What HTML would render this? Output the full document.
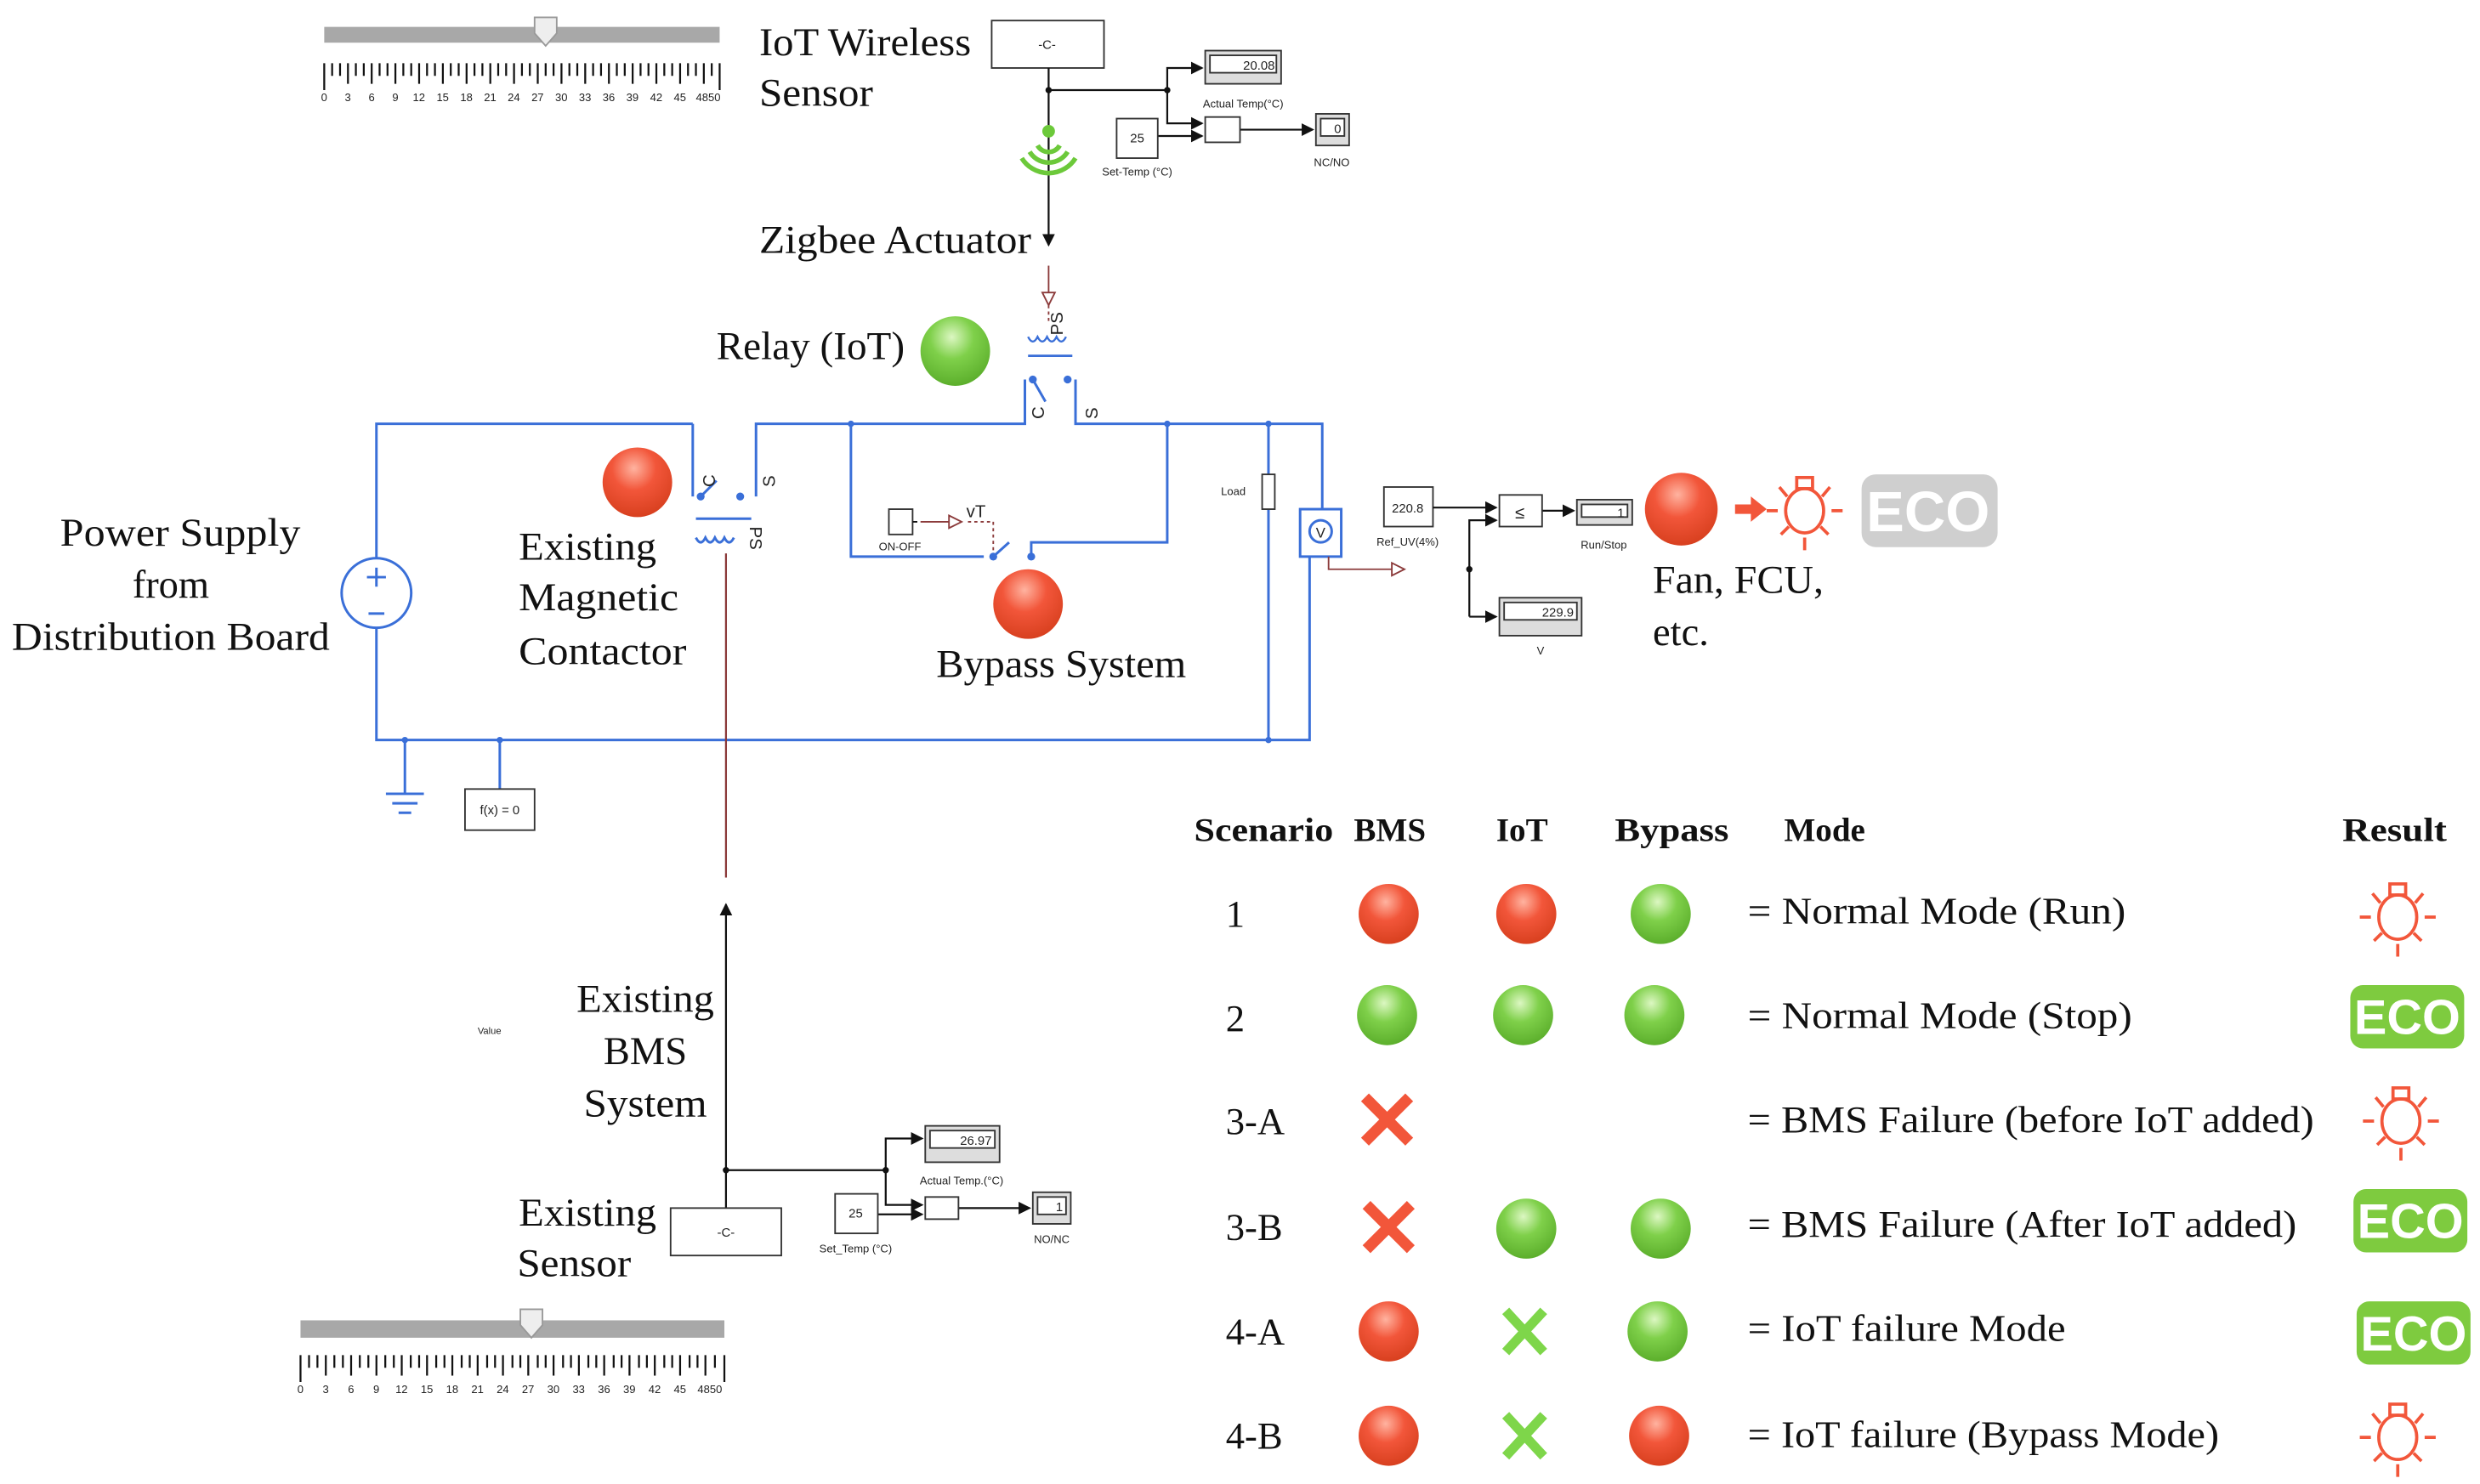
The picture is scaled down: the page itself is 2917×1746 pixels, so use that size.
<!DOCTYPE html>
<html><head><meta charset="utf-8"><style>
html,body{margin:0;padding:0;background:#fff;}
svg{display:block;}
.s{font-family:"Liberation Serif",serif;fill:#111;}
.a{font-family:"Liberation Sans",sans-serif;fill:#222;}
</style></head><body>
<svg width="2917" height="1746" viewBox="0 0 1568 938.5" preserveAspectRatio="none" xmlns="http://www.w3.org/2000/svg">
<defs>
<radialGradient id="gr" cx="45%" cy="30%" r="70%"><stop offset="0" stop-color="#ffb3a0"/><stop offset="0.45" stop-color="#f2563a"/><stop offset="1" stop-color="#d8401f"/></radialGradient>
<radialGradient id="gg" cx="45%" cy="30%" r="70%"><stop offset="0" stop-color="#dcf7c2"/><stop offset="0.45" stop-color="#7fd04a"/><stop offset="1" stop-color="#5caf2c"/></radialGradient>
<marker id="ar" markerWidth="8" markerHeight="8" refX="7" refY="4" orient="auto" markerUnits="userSpaceOnUse"><path d="M0,0 L8,4 L0,8z" fill="#111"/></marker>
<marker id="ho" markerWidth="10" markerHeight="10" refX="9" refY="5" orient="auto" markerUnits="userSpaceOnUse"><path d="M1,1 L9,5 L1,9z" fill="#fff" stroke="#8b3a3a"/></marker>
<g id="bulb" fill="none" stroke="#f2563a" stroke-width="2"><ellipse cx="0" cy="3" rx="12" ry="14"/><rect x="-5" y="-18" width="10" height="7"/><path d="M-24,3h7M17,3h7M0,20v8M-16,-12l5,6M16,-12l-5,6M-15,18l5,-5M15,18l-5,-5"/></g>
<g id="eco"><rect x="0" y="0" width="72" height="40" rx="8" fill="#7ecb3f"/><text x="36" y="31" text-anchor="middle" font-family="Liberation Sans,sans-serif" font-weight="bold" font-size="31" fill="#fff">ECO</text></g>
<g id="xr"><path d="M-14,-14L14,14M14,-14L-14,14" stroke="#f2563a" stroke-width="7"/></g>
<g id="xg"><path d="M-12,-13L12,13M12,-13L-12,13" stroke="#7ed64a" stroke-width="6"/></g>
</defs>

<!-- top slider -->
<rect x="205" y="17" width="250" height="10" fill="#a8a8a8"/>
<path d="M338,11h14v10l-7,8l-7,-8z" fill="#eee" stroke="#999"/>
<g stroke="#111" stroke-width="1.2">
<path d="M205,40v17M210,40v8M215,40v8M220,40v13M225,40v8M230,40v8M235,40v13M240,40v8M245,40v8M250,40v13M255,40v8M260,40v8M265,40v13M270,40v8M275,40v8M280,40v13M285,40v8M290,40v8M295,40v13M300,40v8M305,40v8M310,40v13M315,40v8M320,40v8M325,40v13M330,40v8M335,40v8M340,40v13M345,40v8M350,40v8M355,40v13M360,40v8M365,40v8M370,40v13M375,40v8M380,40v8M385,40v13M390,40v8M395,40v8M400,40v13M405,40v8M410,40v8M415,40v13M420,40v8M425,40v8M430,40v13M435,40v8M440,40v8M445,40v13M450,40v8M455,40v17"/>
</g>
<text class="a" font-size="7" y="64"><tspan x="203">0</tspan><tspan x="218">3</tspan><tspan x="233">6</tspan><tspan x="248">9</tspan><tspan x="261">12</tspan><tspan x="276">15</tspan><tspan x="291">18</tspan><tspan x="306">21</tspan><tspan x="321">24</tspan><tspan x="336">27</tspan><tspan x="351">30</tspan><tspan x="366">33</tspan><tspan x="381">36</tspan><tspan x="396">39</tspan><tspan x="411">42</tspan><tspan x="426">45</tspan><tspan x="440">4850</tspan></text>

<text class="s" font-size="25" x="480" y="35" textLength="134" lengthAdjust="spacingAndGlyphs">IoT Wireless</text>
<text class="s" font-size="25" x="480" y="67" textLength="72" lengthAdjust="spacingAndGlyphs">Sensor</text>
<rect x="627" y="13" width="71" height="30" fill="#fff" stroke="#333"/>
<text class="a" font-size="8" x="662" y="31" text-anchor="middle">-C-</text>
<g stroke="#111" stroke-width="1.2" fill="none">
<path d="M663,43V155" marker-end="url(#ar)"/>
<path d="M663,57H738V43H760" marker-end="url(#ar)"/>
<path d="M738,57V78H760" marker-end="url(#ar)"/>
<path d="M732,86H760" marker-end="url(#ar)"/>
<path d="M784,82H830" marker-end="url(#ar)"/>
</g>
<circle cx="663" cy="57" r="2" fill="#111"/><circle cx="738" cy="57" r="2" fill="#111"/>
<rect x="762" y="32" width="48" height="21" fill="#ddd" stroke="#333"/><rect x="765" y="35" width="42" height="11" fill="#fff" stroke="#333"/>
<text class="a" font-size="8" x="806" y="44" text-anchor="end">20.08</text>
<text class="a" font-size="7" x="786" y="68" text-anchor="middle">Actual Temp(°C)</text>
<rect x="706" y="75" width="26" height="25" fill="#fff" stroke="#333"/><text class="a" font-size="8" x="719" y="90" text-anchor="middle">25</text>
<text class="a" font-size="7" x="719" y="111" text-anchor="middle">Set-Temp (°C)</text>
<rect x="762" y="74" width="22" height="16" fill="#fff" stroke="#333"/>
<rect x="832" y="72" width="21" height="20" fill="#ddd" stroke="#333"/><rect x="835" y="75" width="15" height="11" fill="#fff" stroke="#333"/>
<text class="a" font-size="8" x="848" y="84" text-anchor="end">0</text>
<text class="a" font-size="7" x="842" y="105" text-anchor="middle">NC/NO</text>
<!-- wifi -->
<g fill="none" stroke="#6cc93a" stroke-width="3"><path d="M656,92a8,8 0 0 0 14,0"/><path d="M651,96a14,14 0 0 0 24,0"/><path d="M646,100a20,20 0 0 0 34,0"/></g>
<circle cx="663" cy="83" r="4" fill="#6cc93a"/>
<text class="s" font-size="25" x="480" y="160" textLength="172" lengthAdjust="spacingAndGlyphs">Zigbee Actuator</text>
<!-- relay coil -->
<path d="M663,168V193" stroke="#8b3a3a" fill="none" marker-end="url(#ho)"/>
<path d="M663,193v10" stroke="#8b3a3a" stroke-dasharray="2,2"/>
<path d="M650,213q3,6 6,0q3,6 6,0q3,6 6,0q3,6 6,0" fill="none" stroke="#3a6fd8" stroke-width="1.3"/>
<path d="M650,225H678" stroke="#3a6fd8" stroke-width="1.5"/>
<text class="a" font-size="11" fill="#3a6fd8" transform="translate(672,212) rotate(-90)">PS</text>
<circle cx="604" cy="222" r="22" fill="url(#gg)"/>
<text class="s" font-size="25" x="453" y="227" textLength="119" lengthAdjust="spacingAndGlyphs">Relay (IoT)</text>
<!-- circuit -->
<g stroke="#3a6fd8" stroke-width="1.6" fill="none">
<path d="M438,268H238V353M238,397V468H828V352"/>
<path d="M438,268V314"/>
<path d="M478,314V268H648V240"/>
<path d="M653,240l8,14"/>
<path d="M680,240V268H836V322"/>
<path d="M802,268V468"/>
<path d="M538,268V352H622"/>
<path d="M738,268V343H652V352"/>
<path d="M628,352l10,-9"/>
<path d="M443,314l10,-10"/>
<rect x="822" y="322" width="26" height="30"/>
<circle cx="835" cy="336" r="7"/>
<circle cx="238" cy="375" r="22"/>
<path d="M232,365h12M238,359v12M233,388h10"/>
<path d="M440,328H475"/>
<path d="M440,340q3,6 6,0q3,6 6,0q3,6 6,0q3,6 6,0"/>
<path d="M256,468V502M244,502h24M248,508h16M252,514h8M316,468V499"/>
</g>
<rect x="798" y="300" width="8" height="22" fill="#fff" stroke="#333"/>
<text class="a" font-size="7" x="772" y="313">Load</text>
<text class="a" font-size="9" x="835" y="340" text-anchor="middle" fill="#3a6fd8">V</text>
<g fill="#3a6fd8"><circle cx="653" cy="240" r="2.5"/><circle cx="675" cy="240" r="2.5"/><circle cx="443" cy="314" r="2.5"/><circle cx="468" cy="314" r="2.5"/><circle cx="628" cy="352" r="2.5"/><circle cx="652" cy="352" r="2.5"/><circle cx="538" cy="268" r="2"/><circle cx="738" cy="268" r="2"/><circle cx="802" cy="268" r="2"/><circle cx="802" cy="468" r="2"/><circle cx="256" cy="468" r="2"/><circle cx="316" cy="468" r="2"/></g>
<g class="a" font-size="11" fill="#3a6fd8">
<text transform="translate(660,265) rotate(-90)">C</text><text transform="translate(694,265) rotate(-90)">S</text>
<text transform="translate(452,308) rotate(-90)">C</text><text transform="translate(490,308) rotate(-90)">S</text>
<text transform="translate(474,333) rotate(90)">PS</text>
</g>
<rect x="562" y="322" width="15" height="16" fill="#fff" stroke="#333"/>
<path d="M577,330h3" stroke="#111"/>
<text class="a" font-size="7" x="569" y="348" text-anchor="middle">ON-OFF</text>
<path d="M582,330H608" stroke="#8b3a3a" marker-end="url(#ho)"/>
<path d="M612,330H628V348" stroke="#8b3a3a" stroke-dasharray="2,2" fill="none"/>
<text class="a" font-size="11" x="611" y="327" fill="#3a6fd8">vT</text>
<circle cx="403" cy="305" r="22" fill="url(#gr)"/>
<circle cx="650" cy="382" r="22" fill="url(#gr)"/>
<rect x="294" y="499" width="44" height="26" fill="#fff" stroke="#333"/>
<text class="a" font-size="8" x="316" y="515" text-anchor="middle">f(x) = 0</text>
<!-- texts -->
<g class="s" font-size="25" text-anchor="middle">
<text x="114" y="345" textLength="152" lengthAdjust="spacingAndGlyphs">Power Supply</text><text x="108" y="378">from</text><text x="108" y="411" textLength="201" lengthAdjust="spacingAndGlyphs">Distribution Board</text>
<text x="408" y="640" textLength="87" lengthAdjust="spacingAndGlyphs">Existing</text><text x="408" y="673">BMS</text><text x="408" y="706" textLength="78" lengthAdjust="spacingAndGlyphs">System</text>
</g>
<g class="s" font-size="25">
<text x="328" y="354" textLength="87" lengthAdjust="spacingAndGlyphs">Existing</text><text x="328" y="386" textLength="101" lengthAdjust="spacingAndGlyphs">Magnetic</text><text x="328" y="420" textLength="106" lengthAdjust="spacingAndGlyphs">Contactor</text>
<text x="592" y="428" textLength="158" lengthAdjust="spacingAndGlyphs">Bypass System</text>
<text x="1045" y="375" textLength="108" lengthAdjust="spacingAndGlyphs">Fan, FCU,</text><text x="1045" y="408">etc.</text>
<text x="328" y="775" textLength="87" lengthAdjust="spacingAndGlyphs">Existing</text><text x="327" y="807" textLength="72" lengthAdjust="spacingAndGlyphs">Sensor</text>
</g>
<!-- BMS red line -->
<path d="M459,350V555" stroke="#8b3a3a" stroke-width="1.2"/>
<path d="M459,764V572" stroke="#111" stroke-width="1.2" marker-end="url(#ar)"/>
<text class="a" font-size="6" x="302" y="654" fill="#888">Value</text>
<g stroke="#111" stroke-width="1.2" fill="none">
<path d="M459,740H560V720H583" marker-end="url(#ar)"/>
<path d="M560,740V762H583" marker-end="url(#ar)"/>
<path d="M555,768H583" marker-end="url(#ar)"/>
<path d="M606,764H651" marker-end="url(#ar)"/>
</g>
<circle cx="459" cy="740" r="2" fill="#111"/><circle cx="560" cy="740" r="2" fill="#111"/>
<rect x="424" y="764" width="70" height="30" fill="#fff" stroke="#333"/><text class="a" font-size="8" x="459" y="782" text-anchor="middle">-C-</text>
<rect x="585" y="712" width="47" height="23" fill="#ddd" stroke="#333"/><rect x="588" y="715" width="41" height="11" fill="#fff" stroke="#333"/>
<text class="a" font-size="8" x="627" y="724" text-anchor="end">26.97</text>
<text class="a" font-size="7" x="608" y="749" text-anchor="middle">Actual Temp.(°C)</text>
<rect x="528" y="755" width="27" height="25" fill="#fff" stroke="#333"/><text class="a" font-size="8" x="541" y="770" text-anchor="middle">25</text>
<text class="a" font-size="7" x="541" y="792" text-anchor="middle">Set_Temp (°C)</text>
<rect x="585" y="757" width="21" height="14" fill="#fff" stroke="#333"/>
<rect x="653" y="754" width="24" height="20" fill="#ddd" stroke="#333"/><rect x="656" y="757" width="18" height="11" fill="#fff" stroke="#333"/>
<text class="a" font-size="8" x="672" y="766" text-anchor="end">1</text>
<text class="a" font-size="7" x="665" y="786" text-anchor="middle">NO/NC</text>
<!-- bottom slider -->
<rect x="190" y="835" width="268" height="11" fill="#a8a8a8"/>
<path d="M329,828h14v10l-7,8l-7,-8z" fill="#eee" stroke="#999"/>
<g stroke="#111" stroke-width="1.2">
<path d="M190,857v17M195.4,857v8M200.7,857v8M206,857v13M211.4,857v8M216.8,857v8M222,857v13M227.5,857v8M232.9,857v8M238,857v13M243.6,857v8M249,857v8M254,857v13M259.7,857v8M265,857v8M270,857v13M275.8,857v8M281,857v8M286,857v13M291.9,857v8M297,857v8M302,857v13M308,857v8M313,857v8M318,857v13M324,857v8M329,857v8M334,857v13M340,857v8M345,857v8M350,857v13M356,857v8M361,857v8M366,857v13M372,857v8M377,857v8M382,857v13M388,857v8M393,857v8M398,857v13M404,857v8M409,857v8M414,857v13M420,857v8M425,857v8M430,857v13M436,857v8M441,857v8M446,857v13M452,857v8M458,857v17"/>
</g>
<text class="a" font-size="7" y="881"><tspan x="188">0</tspan><tspan x="204">3</tspan><tspan x="220">6</tspan><tspan x="236">9</tspan><tspan x="250">12</tspan><tspan x="266">15</tspan><tspan x="282">18</tspan><tspan x="298">21</tspan><tspan x="314">24</tspan><tspan x="330">27</tspan><tspan x="346">30</tspan><tspan x="362">33</tspan><tspan x="378">36</tspan><tspan x="394">39</tspan><tspan x="410">42</tspan><tspan x="426">45</tspan><tspan x="441">4850</tspan></text>
<!-- right control -->
<path d="M840,352V360H888" stroke="#8b3a3a" fill="none" marker-end="url(#ho)"/>
<rect x="875" y="308" width="31" height="25" fill="#fff" stroke="#333"/><text class="a" font-size="8" x="890" y="324" text-anchor="middle">220.8</text>
<text class="a" font-size="7" x="890" y="345" text-anchor="middle">Ref_UV(4%)</text>
<g stroke="#111" stroke-width="1.2" fill="none">
<path d="M906,321H946" marker-end="url(#ar)"/>
<path d="M929,390V329H946" marker-end="url(#ar)"/>
<path d="M929,390H946" marker-end="url(#ar)"/>
<path d="M975,323H995" marker-end="url(#ar)"/>
</g>
<circle cx="929" cy="360" r="2" fill="#111"/>
<rect x="948" y="313" width="27" height="20" fill="#fff" stroke="#333"/><text class="a" font-size="11" x="961" y="328" text-anchor="middle">≤</text>
<rect x="997" y="316" width="35" height="16" fill="#ddd" stroke="#333"/><rect x="1000" y="319" width="29" height="8" fill="#fff" stroke="#333"/>
<text class="a" font-size="8" x="1027" y="327" text-anchor="end">1</text>
<text class="a" font-size="7" x="1014" y="347" text-anchor="middle">Run/Stop</text>
<rect x="948" y="378" width="52" height="24" fill="#ddd" stroke="#333"/><rect x="951" y="381" width="46" height="11" fill="#fff" stroke="#333"/>
<text class="a" font-size="8" x="995" y="390" text-anchor="end">229.9</text>
<text class="a" font-size="7" x="974" y="414" text-anchor="middle">V</text>
<circle cx="1063" cy="322" r="23" fill="url(#gr)"/>
<path d="M1097,322h12" stroke="#f2563a" stroke-width="6"/><path d="M1107,314l10,8l-10,8z" fill="#f2563a"/>
<use href="#bulb" x="1141" y="320"/>
<rect x="1177" y="300" width="86" height="46" rx="9" fill="#cfcfcf"/>
<text x="1219" y="336" text-anchor="middle" font-family="Liberation Sans,sans-serif" font-weight="bold" font-size="36" fill="#fff">ECO</text>
<!-- table -->
<g class="s" font-size="21" font-weight="bold">
<text x="755" y="532" textLength="88" lengthAdjust="spacingAndGlyphs">Scenario</text><text x="856" y="532">BMS</text><text x="946" y="532">IoT</text><text x="1021" y="532" textLength="72" lengthAdjust="spacingAndGlyphs">Bypass</text><text x="1128" y="532">Mode</text><text x="1481" y="532" textLength="66" lengthAdjust="spacingAndGlyphs">Result</text>
</g>
<g class="s" font-size="24">
<text x="775" y="586">1</text><text x="775" y="652">2</text><text x="775" y="717">3-A</text><text x="775" y="784">3-B</text><text x="775" y="850">4-A</text><text x="775" y="916">4-B</text>
<text x="1105" y="584" textLength="239" lengthAdjust="spacingAndGlyphs">= Normal Mode (Run)</text>
<text x="1105" y="650" textLength="243" lengthAdjust="spacingAndGlyphs">= Normal Mode (Stop)</text>
<text x="1105" y="716" textLength="358" lengthAdjust="spacingAndGlyphs">= BMS Failure (before IoT added)</text>
<text x="1105" y="782" textLength="347" lengthAdjust="spacingAndGlyphs">= BMS Failure (After IoT added)</text>
<text x="1105" y="848" textLength="201" lengthAdjust="spacingAndGlyphs">= IoT failure Mode</text>
<text x="1105" y="915" textLength="298" lengthAdjust="spacingAndGlyphs">= IoT failure (Bypass Mode)</text>
</g>
<circle cx="878" cy="578" r="19" fill="url(#gr)"/><circle cx="965" cy="578" r="19" fill="url(#gr)"/><circle cx="1050" cy="578" r="19" fill="url(#gg)"/>
<circle cx="877" cy="642" r="19" fill="url(#gg)"/><circle cx="963" cy="642" r="19" fill="url(#gg)"/><circle cx="1046" cy="642" r="19" fill="url(#gg)"/>
<use href="#xr" x="877" y="708"/>
<use href="#xr" x="878" y="776"/><circle cx="965" cy="777" r="19" fill="url(#gg)"/><circle cx="1050" cy="777" r="19" fill="url(#gg)"/>
<circle cx="878" cy="842" r="19" fill="url(#gr)"/><use href="#xg" x="964" y="842"/><circle cx="1048" cy="842" r="19" fill="url(#gg)"/>
<circle cx="878" cy="908" r="19" fill="url(#gr)"/><use href="#xg" x="964" y="908"/><circle cx="1049" cy="908" r="19" fill="url(#gr)"/>
<use href="#bulb" x="1516" y="577"/>
<use href="#eco" x="1486" y="623"/>
<use href="#bulb" x="1518" y="706"/>
<use href="#eco" x="1488" y="752"/>
<use href="#eco" x="1490" y="823"/>
<use href="#bulb" x="1516" y="906"/>
</svg>
</body></html>
